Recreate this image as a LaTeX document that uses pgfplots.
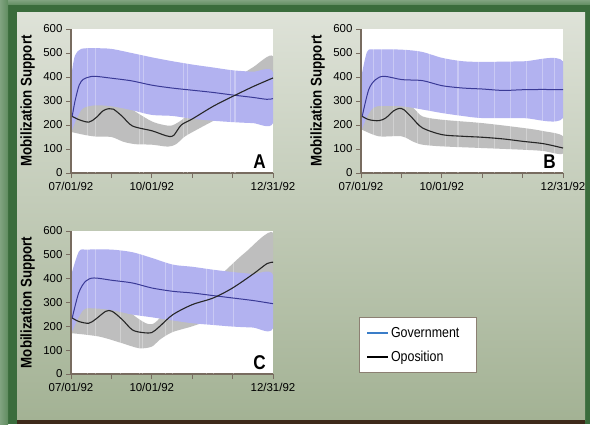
\documentclass[border=0pt]{standalone}
\usepackage{pgfplots}
\pgfplotsset{compat=1.18}
\usepackage{fontspec}
\setmainfont{Liberation Sans}
\newfontfamily\condfont{Liberation Sans}[FakeStretch=0.86]
\definecolor{frameg}{RGB}{58,108,60}
\definecolor{framel}{RGB}{96,140,96}
\definecolor{brownbar}{RGB}{62,42,26}
\definecolor{pantop}{RGB}{222,226,216}
\definecolor{panbot}{RGB}{163,178,148}
\definecolor{axc}{RGB}{120,108,96}
\definecolor{bandblue}{RGB}{178,178,240}
\definecolor{bandgray}{RGB}{190,190,190}
\definecolor{govline}{RGB}{58,58,150}
\definecolor{oppline}{RGB}{38,38,38}
\definecolor{govleg}{RGB}{58,125,200}
\definecolor{legc}{RGB}{140,128,115}
\pgfplotsset{panel/.style={
  scale only axis, width=202bp, height=144bp,
  xmin=0, xmax=5, ymin=0, ymax=600,
  axis lines*=left,
  axis line style={draw=axc, line width=2.6bp},
  xtick={0,1,2,3,4,5},
  xticklabels={07/01/92,,10/01/92,,,12/31/92},
  ytick={0,100,200,300,400,500,600},
  tick align=outside, major tick length=5bp,
  tick style={draw=axc, line width=0.9bp},
  ticklabel style={font=\fontsize{11.5}{12}\selectfont},
  xticklabel style={yshift=-1bp},
  /pgf/number format/assume math mode=true,
  ylabel={Mobilization Support},
  ylabel style={font=\condfont\bfseries\fontsize{15.5}{15.5}\selectfont,
    at={(axis description cs:-0.215,0.5)}, anchor=center},
  axis background/.style={fill=white},
  clip=true,
}, stripes/.style={white, opacity=0.3, line width=1.1bp, ycomb, mark=none, forget plot}}
\begin{document}
\begin{tikzpicture}[x=1bp,y=1bp]
% frame
\fill[frameg] (0,0) rectangle (590,424);
\shade[left color=framel!80!white, right color=framel] (0,0) rectangle (8,424);
\shade[top color=framel!80!white, bottom color=framel] (8,419) rectangle (590,424);
\shade[top color=pantop, middle color=white, bottom color=panbot] (17,4) rectangle (585,411);
\fill[brownbar] (17,0) rectangle (585,4);

% ---------------- Panel A ----------------
\begin{axis}[panel, at={(71bp,251bp)}, anchor=south west]
\addplot[fill=bandgray, draw=none, smooth] coordinates {(0.03,305)(0.3,285)(0.6,295)(0.95,310)(1.3,290)(1.6,255)(2.0,215)(2.3,200)(2.5,198)(2.75,222)(3.0,262)(3.5,320)(4.0,385)(4.5,440)(5.0,486)
 (5.0,310)(4.5,285)(4.0,255)(3.5,215)(3.0,170)(2.8,150)(2.6,120)(2.4,110)(2.0,118)(1.6,120)(1.3,130)(1.0,150)(0.6,152)(0.3,160)(0.03,170)} -- cycle;
\addplot[fill=bandblue, draw=none, smooth] coordinates {(0.03,430)(0.1,490)(0.25,517)(0.6,520)(1.0,517)(1.5,500)(2.0,482)(2.5,466)(3.0,452)(3.5,440)(4.0,428)(4.5,422)(5.0,420)
 (5.0,208)(4.5,208)(4.0,212)(3.5,218)(3.0,226)(2.5,238)(2.0,242)(1.5,262)(1.0,278)(0.6,282)(0.3,270)(0.15,230)(0.03,180)} -- cycle;
\addplot[stripes] coordinates {(0.4,600)(0.6,600)(1.7,600)(1.8,600)(2.78,600)(2.88,600)(3.95,600)(4.06,600)};
\addplot[govline, line width=1bp, smooth] coordinates {(0.03,236)(0.1,300)(0.2,365)(0.3,390)(0.45,400)(0.6,403)(1.0,395)(1.5,384)(2.0,366)(2.5,354)(3.0,345)(3.5,336)(4.0,325)(4.5,315)(4.85,307)(5.0,310)};
\addplot[oppline, line width=1.1bp, smooth] coordinates {(0.03,236)(0.2,222)(0.44,212)(0.61,229)(0.8,260)(0.94,268)(1.05,266)(1.27,236)(1.52,196)(2.0,176)(2.27,160)(2.44,152)(2.55,158)(2.73,200)(3.0,225)(3.52,278)(4.0,319)(4.52,361)(5.0,396)};
\node[anchor=south east, inner sep=0pt, font=\condfont\bfseries\fontsize{20}{20}\selectfont] at (rel axis cs:0.965,0.03) {A};
\end{axis}

% ---------------- Panel B ----------------
\begin{axis}[panel, at={(361bp,251bp)}, anchor=south west]
\addplot[fill=bandgray, draw=none, smooth] coordinates {(0.03,300)(0.3,280)(0.6,290)(0.95,310)(1.3,270)(1.52,236)(2.0,222)(3.0,208)(4.0,188)(4.5,175)(5.0,153)
 (5.0,81)(4.5,92)(4.0,97)(3.0,104)(2.0,111)(1.52,118)(1.3,130)(1.0,153)(0.44,153)(0.03,180)} -- cycle;
\addplot[fill=bandblue, draw=none, smooth] coordinates {(0.03,420)(0.15,505)(0.3,515)(1.0,514)(1.5,505)(2.0,480)(2.5,466)(3.0,463)(4.0,465)(5.0,465)
 (5.0,229)(4.0,229)(3.0,229)(2.5,238)(2.0,250)(1.5,265)(1.0,278)(0.4,278)(0.2,250)(0.03,185)} -- cycle;
\addplot[stripes] coordinates {(0.3,600)(0.5,600)(0.8,600)(1.1,600)(1.4,600)(1.7,600)(2.1,600)(2.4,600)(2.9,600)(3.3,600)(3.7,600)(4.1,600)(4.5,600)(4.8,600)};
\addplot[govline, line width=1bp, smooth] coordinates {(0.03,236)(0.19,347)(0.36,389)(0.57,403)(1.02,389)(1.52,385)(2.0,364)(2.52,354)(3.0,350)(3.52,344)(4.0,347)(4.5,348)(5.0,347)};
\addplot[oppline, line width=1.1bp, smooth] coordinates {(0.03,236)(0.2,222)(0.44,218)(0.61,229)(0.8,258)(0.94,269)(1.06,264)(1.27,229)(1.52,188)(2.0,160)(2.52,153)(3.0,149)(3.52,142)(4.0,132)(4.52,122)(5.0,104)};
\node[anchor=south east, inner sep=0pt, font=\condfont\bfseries\fontsize{20}{20}\selectfont] at (rel axis cs:0.965,0.03) {B};
\end{axis}

% ---------------- Panel C ----------------
\begin{axis}[panel, height=143bp, at={(71bp,50bp)}, anchor=south west,
  legend style={at={(1.426,0.399)}, anchor=north west, draw=legc, line width=0.8bp,
    fill=white, font=\condfont\fontsize{14.5}{17}\selectfont, row sep=8bp,
    inner xsep=7bp, inner ysep=8bp},
  legend cell align=left,
  legend image code/.code={\draw[#1] (0bp,0bp) -- (21bp,0bp);}]
\addplot[fill=bandgray, draw=none, smooth, forget plot] coordinates {(0.03,310)(0.3,290)(0.6,300)(0.95,310)(1.3,285)(1.6,240)(1.9,210)(2.1,218)(2.5,290)(3.0,340)(3.5,390)(3.8,431)(4.3,508)(5.0,593)
 (5.0,360)(4.5,310)(4.0,265)(3.5,230)(3.0,200)(2.5,175)(2.19,143)(2.0,115)(1.69,108)(1.27,129)(0.7,157)(0.03,171)} -- cycle;
\addplot[fill=bandblue, draw=none, smooth, forget plot] coordinates {(0.03,430)(0.2,515)(0.4,522)(1.0,522)(1.52,511)(2.0,487)(2.52,459)(3.0,450)(3.5,438)(4.0,428)(4.5,420)(5.0,415)
 (5.0,192)(4.5,195)(4.0,199)(3.5,206)(3.0,213)(2.5,225)(2.0,238)(1.5,250)(1.0,268)(0.6,275)(0.3,268)(0.03,180)} -- cycle;
\addplot[stripes] coordinates {(0.4,600)(0.61,600)(1.23,600)(1.69,600)(1.77,600)(2.35,600)(2.52,600)(3.35,600)(3.52,600)(4.02,600)};
\addplot[govline, line width=1bp, smooth, forget plot] coordinates {(0.03,235)(0.19,340)(0.36,389)(0.57,403)(1.02,393)(1.52,382)(2.0,361)(2.52,347)(3.0,340)(3.52,329)(4.0,319)(4.52,308)(5.0,295)};
\addplot[oppline, line width=1.1bp, smooth, forget plot] coordinates {(0.03,235)(0.2,220)(0.44,213)(0.61,230)(0.86,263)(1.02,263)(1.27,228)(1.52,185)(1.77,174)(2.0,174)(2.19,199)(2.52,249)(3.0,291)(3.52,319)(4.0,361)(4.52,421)(4.85,463)(5.0,469)};
\node[anchor=south east, inner sep=0pt, font=\condfont\bfseries\fontsize{20}{20}\selectfont] at (rel axis cs:0.965,0.03) {C};
\addlegendimage{govleg, line width=1.6bp}
\addlegendentry{Government\hspace*{8bp}}
\addlegendimage{black, line width=1.6bp}
\addlegendentry{Oposition}
\end{axis}
\end{tikzpicture}
\end{document}
